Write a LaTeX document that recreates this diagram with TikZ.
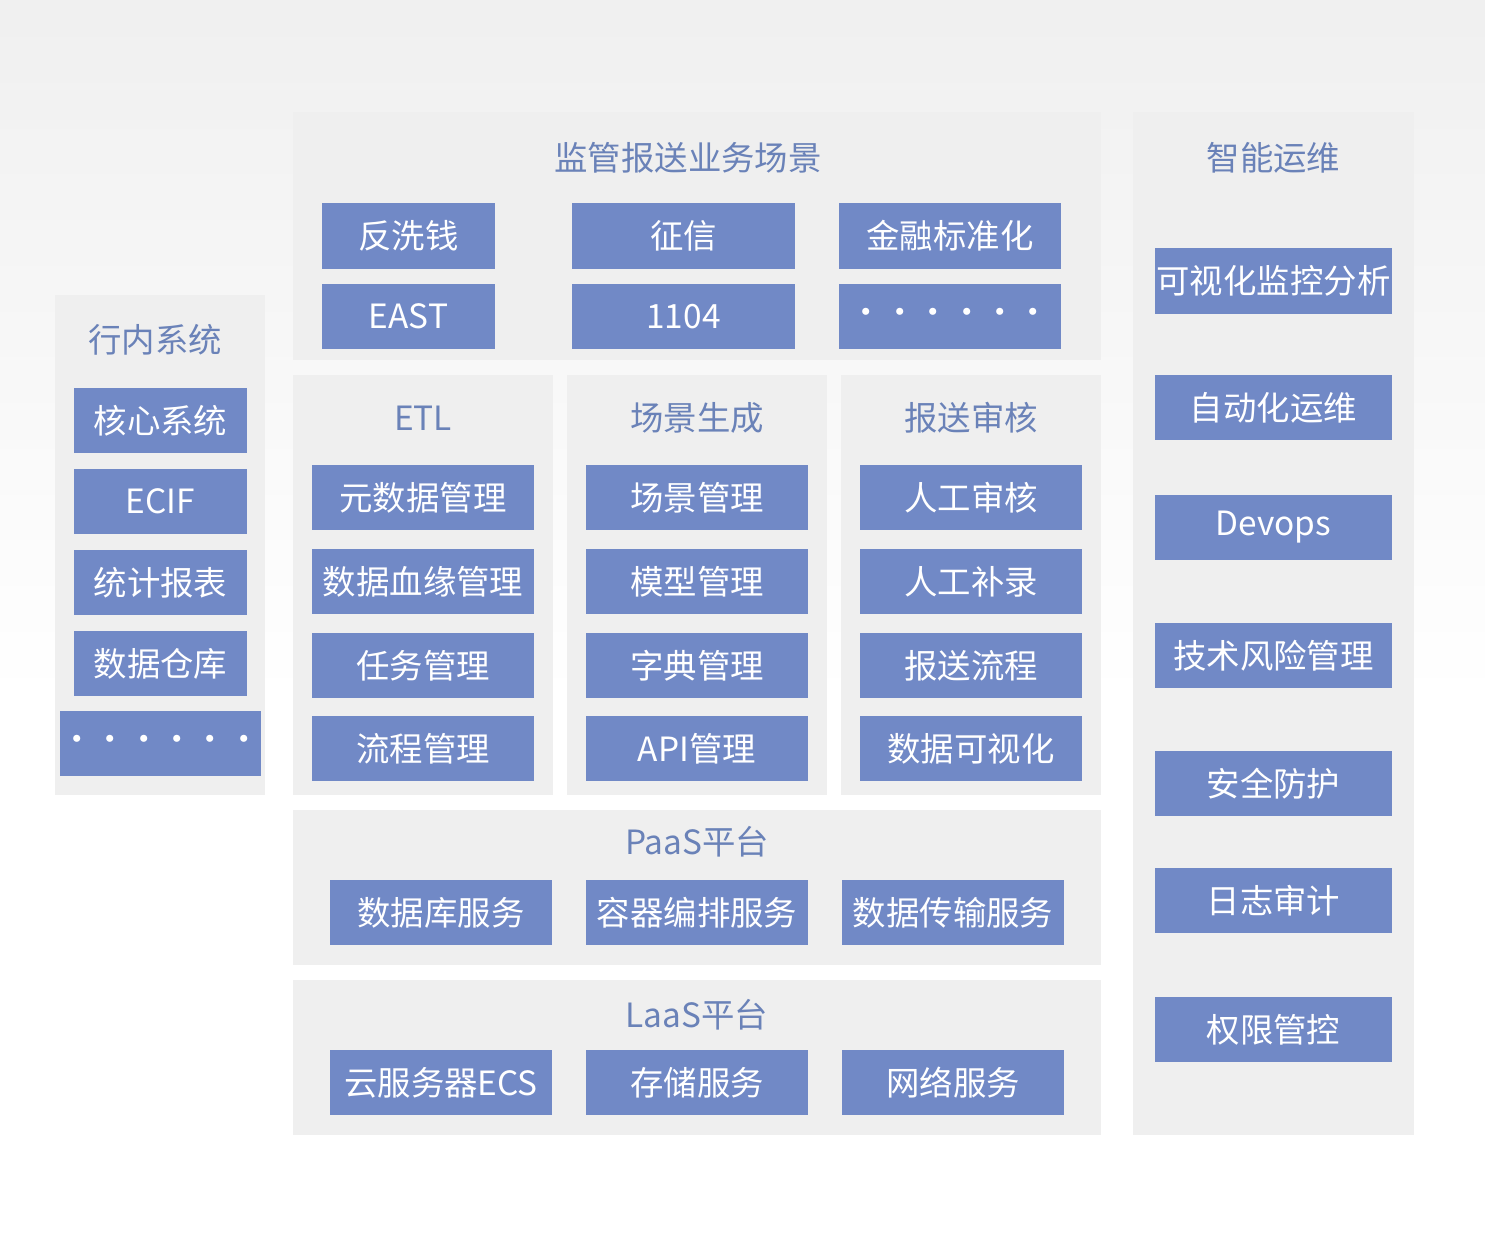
\documentclass[tikz,border=0pt]{standalone}
\usepackage{fontspec}
\setmainfont{Noto Sans CJK SC}
\definecolor{panelgray}{HTML}{EFEFEF}
\definecolor{boxblue}{HTML}{7189C6}
\definecolor{titleblue}{HTML}{6A82B8}
\tikzset{
  blk/.style={fill=boxblue, text=white, inner sep=0pt, minimum height=0.65cm, font=\fontsize{9.5pt}{11pt}\selectfont},
  ttl/.style={text=titleblue, inner sep=0pt, font=\fontsize{9.5pt}{11pt}\selectfont},
}
\begin{document}
\begin{tikzpicture}[x=0.01cm,y=-0.01cm]
\useasboundingbox (0,0) rectangle (1485,1252);
\shade[top color=gray!12, bottom color=white] (0,0) rectangle (1485,700);
\fill[white] (0,700) rectangle (1485,1252);

% panels
\fill[panelgray] (293,112) rectangle (1101,360);
\fill[panelgray] (55,295) rectangle (265,795);
\fill[panelgray] (293,375) rectangle (553,795);
\fill[panelgray] (567,375) rectangle (827,795);
\fill[panelgray] (841,375) rectangle (1101,795);
\fill[panelgray] (293,810) rectangle (1101,965);
\fill[panelgray] (293,980) rectangle (1101,1135);
\fill[panelgray] (1133,112) rectangle (1414,1135);

% scene
\node[ttl] (sceneT) at (688,158) {监管报送业务场景};
\node[blk, minimum width=1.73cm] (fxq) at (408.5,236) {反洗钱};
\node[blk, minimum width=2.23cm] (zx) at (683.5,236) {征信};
\node[blk, minimum width=2.22cm] (jrbz) at (950,236) {金融标准化};
\node[blk, minimum width=1.73cm] (east) at (408.5,316.5) {EAST};
\node[blk, minimum width=2.23cm] (n1104) at (683.5,316.5) {1104};
\node[blk, minimum width=2.22cm] (more1) at (950,316.5) {······};

% in-house
\node[ttl] (innerT) at (155,340) {行内系统};
\node[blk, minimum width=1.73cm] (hx) at (160.5,420.5) {核心系统};
\node[blk, minimum width=1.73cm] (ecif) at (160.5,501.5) {ECIF};
\node[blk, minimum width=1.73cm] (tj) at (160.5,582.5) {统计报表};
\node[blk, minimum width=1.73cm] (ck) at (160.5,663.5) {数据仓库};
\node[blk, minimum width=1.73cm] (more2) at (160.5,743.5) {······};

% ETL
\node[ttl] (etlT) at (423,418) {ETL};
\node[blk, minimum width=2.22cm] (etl1) at (423,497.5) {元数据管理};
\node[blk, minimum width=2.22cm] (etl2) at (423,581.5) {数据血缘管理};
\node[blk, minimum width=2.22cm] (etl3) at (423,665.5) {任务管理};
\node[blk, minimum width=2.22cm] (etl4) at (423,748.5) {流程管理};

% scene generation
\node[ttl] (genT) at (697,418) {场景生成};
\node[blk, minimum width=2.22cm] (gen1) at (697,497.5) {场景管理};
\node[blk, minimum width=2.22cm] (gen2) at (697,581.5) {模型管理};
\node[blk, minimum width=2.22cm] (gen3) at (697,665.5) {字典管理};
\node[blk, minimum width=2.22cm] (gen4) at (697,748.5) {API管理};

% review
\node[ttl] (revT) at (971,418) {报送审核};
\node[blk, minimum width=2.22cm] (rev1) at (971,497.5) {人工审核};
\node[blk, minimum width=2.22cm] (rev2) at (971,581.5) {人工补录};
\node[blk, minimum width=2.22cm] (rev3) at (971,665.5) {报送流程};
\node[blk, minimum width=2.22cm] (rev4) at (971,748.5) {数据可视化};

% PaaS
\node[ttl] (paasT) at (697,842) {PaaS平台};
\node[blk, minimum width=2.22cm] (paas1) at (441,912.5) {数据库服务};
\node[blk, minimum width=2.22cm] (paas2) at (697,912.5) {容器编排服务};
\node[blk, minimum width=2.22cm] (paas3) at (953,912.5) {数据传输服务};

% LaaS
\node[ttl] (laasT) at (697,1015) {LaaS平台};
\node[blk, minimum width=2.22cm] (laas1) at (441,1082.5) {云服务器ECS};
\node[blk, minimum width=2.22cm] (laas2) at (697,1082.5) {存储服务};
\node[blk, minimum width=2.22cm] (laas3) at (953,1082.5) {网络服务};

% ops
\node[ttl] (opsT) at (1273.5,158) {智能运维};
\node[blk, minimum width=2.37cm] (ops1) at (1273.5,281) {可视化监控分析};
\node[blk, minimum width=2.37cm] (ops2) at (1273.5,407.5) {自动化运维};
\node[blk, minimum width=2.37cm] (ops3) at (1273.5,527.5) {Devops};
\node[blk, minimum width=2.37cm] (ops4) at (1273.5,655.5) {技术风险管理};
\node[blk, minimum width=2.37cm] (ops5) at (1273.5,783.5) {安全防护};
\node[blk, minimum width=2.37cm] (ops6) at (1273.5,900.5) {日志审计};
\node[blk, minimum width=2.37cm] (ops7) at (1273.5,1029.5) {权限管控};
\end{tikzpicture}
\end{document}
